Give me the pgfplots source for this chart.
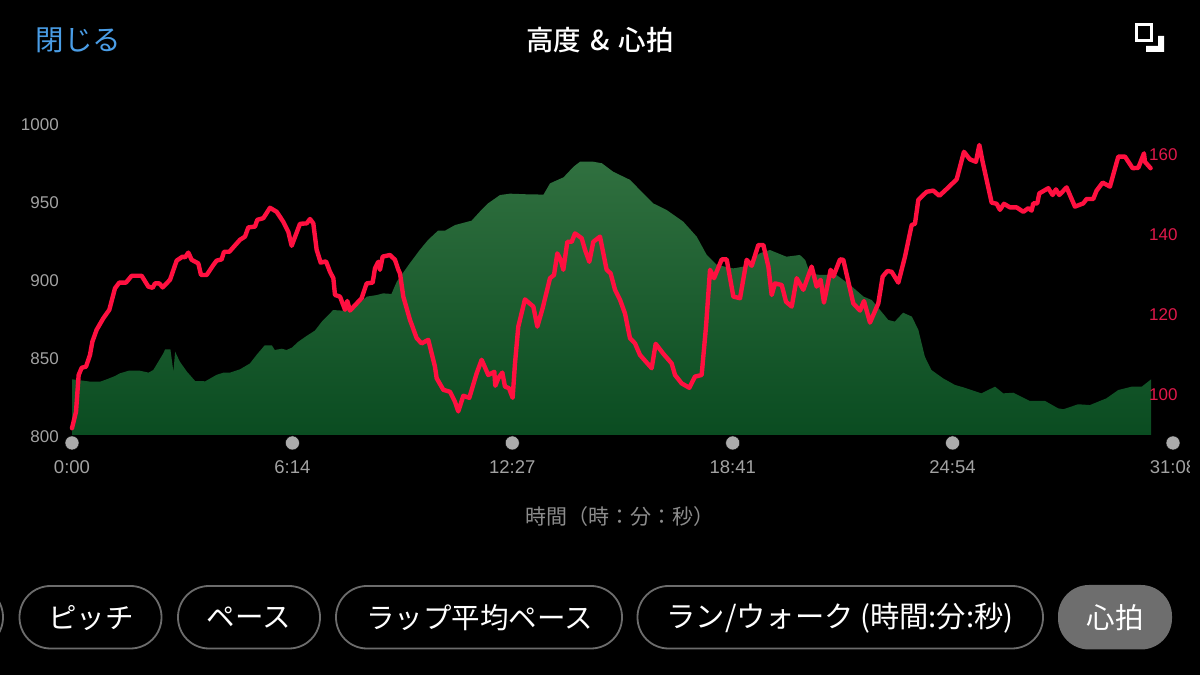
\documentclass[border=0pt]{standalone}
\usepackage{pgfplots}
\usepackage{fontspec}
\pgfplotsset{compat=1.18}
\setmainfont{Liberation Sans}
\newfontfamily\cjk{Noto Sans CJK JP}
\newfontfamily\cjkm{Noto Sans CJK JP Medium}
\definecolor{tickgray}{HTML}{A2A2A2}
\definecolor{labgray}{HTML}{8C8C8C}
\definecolor{hrred}{HTML}{FF1040}
\definecolor{hrtick}{HTML}{E0184A}
\definecolor{closeblue}{HTML}{4A9DE6}
\definecolor{pillline}{HTML}{6C6C6C}
\definecolor{pillfill}{HTML}{6E6E6E}
\definecolor{dotgray}{HTML}{ABABAB}
\definecolor{elevtop}{HTML}{30703F}
\definecolor{elevbot}{HTML}{0A4C21}
\pgfplotstableread{
t elev
0 835.7
19 834.8
31 834.2
48 834.2
59 835.7
73 837.8
81 839.5
96 841.2
115 841.2
130 840.0
138 841.7
155 852.4
158 854.9
167 854.9
172 840.6
175 853.4
183 847.0
195 840.6
209 834.6
217 834.6
226 834.4
245 838.5
257 840.0
268 840.0
285 842.1
302 845.9
313 851.3
327 857.5
339 857.5
344 854.5
356 855.3
364 854.5
373 856.0
384 859.8
398 863.5
412 866.9
424 872.7
435 876.9
443 880.1
460 879.7
477 881.2
491 885.5
500 888.7
517 889.7
528 890.8
542 890.4
551 898.3
573 910.0
590 918.6
604 925.0
621 931.0
633 931.0
650 934.6
678 937.4
692 943.2
706 948.5
726 953.8
743 954.7
771 954.3
800 954.1
811 961.3
834 965.2
851 972.0
862 975.2
884 975.2
899 974.2
918 968.8
947 963.5
969 954.9
986 948.5
1009 944.2
1037 936.8
1060 927.1
1077 915.4
1094 909.0
1122 906.8
1139 907.9
1150 911.1
1167 916.5
1184 918.6
1212 914.3
1235 915.4
1244 912.2
1252 903.6
1269 902.6
1297 902.6
1320 896.2
1343 888.7
1357 886.5
1371 880.1
1385 873.7
1396 872.7
1410 878.4
1425 875.9
1436 867.3
1447 850.2
1458 841.7
1478 836.3
1498 832.1
1512 830.6
1543 826.7
1566 831.0
1580 826.7
1597 827.1
1625 821.8
1651 821.8
1673 817.1
1682 816.5
1707 819.7
1727 819.2
1755 823.5
1775 828.8
1798 831.0
1815 831.0
1831 835.7
}\elevtable
\pgfplotstableread{
t hr
0 91.7
6.8 95.8
11.3 105.0
16.4 106.8
23.8 107.1
30.5 110.0
34.5 113.3
41.8 116.3
53.2 119.2
63.3 121.3
73 126.7
80.3 128.1
91.6 128.1
101.2 129.8
118.2 129.8
129.5 127.1
136.9 126.8
140.8 127.9
148.2 127.9
153.8 126.9
166.3 128.8
177.6 133.6
187.8 134.6
191.7 134.4
197.4 135.6
203 133.8
214.3 132.9
218.9 130
228.5 130
239.8 132.5
245.4 133.6
253.9 133.9
257.9 135.8
266.9 135.8
285 138.8
293.5 139.6
299.2 141.9
310.5 142.1
314.4 143.8
324.6 144.2
335.9 146.8
347.2 145.8
358.5 143.3
367 140.8
372.7 137.3
386.8 142.8
398.1 142.9
403.8 144
409.4 142.9
415.1 136.3
421.9 133.1
431 133.4
437.7 130.8
443.4 129.2
446.2 125
454.7 124.6
463.2 121.3
467.1 123.5
471.6 121.1
491.4 124.2
499.9 127.9
510.1 128.1
514.1 131.7
519.7 133.3
522.5 131.3
527.1 134.6
539.5 135
548 133.8
553.7 131.3
556.5 130.4
562.1 124.6
573.4 118.8
584.8 114.2
593.2 112.9
604.5 113.8
615.8 107.1
618.7 104.2
630 101.3
641.3 100.8
649.8 98.3
655.4 95.9
663.9 99.8
674.1 99.3
686.5 105.4
695 108.8
706.3 105
716.5 105.8
718.2 102.3
723.3 104.2
730.1 105.6
734.6 102.1
741.4 101.7
747.6 99.3
751.6 107.9
757.2 117.1
768.5 123.9
782.7 122.1
789.5 117.1
798.5 121.7
811 129.2
817.8 130
823.4 135.4
829.1 133.8
833.6 131.3
840.4 138.3
847.8 138.3
853.4 140.4
864.7 139.2
870.4 136.3
877.7 133.3
884.5 138.3
895.8 139.6
907.1 131.3
913.9 130.4
921.3 126.3
929.8 123.8
938.2 120.4
946.7 114.2
955.2 112.9
963.7 110
983.5 106.7
990.3 112.8
1003.3 110.3
1017.4 107.9
1023.1 105
1034.4 102.9
1047.4 101.8
1057 104.6
1068.3 105
1075.7 117.1
1082.5 131.3
1089.3 129.2
1102.3 133.9
1110.8 133.9
1122.1 124.6
1133.4 124.2
1144.7 133.8
1153.2 132.3
1164.5 137.5
1173 137.5
1181.5 132.1
1187.1 125
1192.8 127.9
1204.1 127.5
1211.5 123.3
1221.1 122.1
1229.6 129.2
1240.8 126.3
1254.9 132.1
1263.4 127.1
1270.2 128.8
1275.8 123.1
1287.1 131.3
1291.7 129.6
1303 133.9
1308.6 133.8
1325.6 122.9
1336.9 121.1
1343.7 123.5
1353.9 118.1
1368 122.9
1375.4 129.6
1383.3 131
1390.7 130.8
1402 128.1
1413.3 134.6
1424.6 142.5
1430.2 142.8
1435.9 148.8
1450 150.8
1461.3 151.1
1471.5 149.8
1481.1 151.1
1500.9 153.9
1513.3 160.8
1523.5 158.9
1533.7 158.3
1539.4 162.5
1545 158.3
1560.3 148.1
1568.8 147.8
1574.4 146.3
1581.2 147.8
1591.4 146.9
1602.7 146.9
1614 145.8
1622.5 146.7
1628.1 146.1
1630.9 147.9
1637.7 147.9
1641.1 150.4
1656.4 151.7
1663.7 150
1669.4 151.4
1675 150
1687.5 151.9
1701.6 147.1
1715.7 147.9
1721.4 149
1732.7 149
1738.4 151.1
1748.6 153.1
1761 152.1
1775.2 159.6
1786.5 159.6
1799.5 156.7
1809.1 156.8
1818.7 160.4
1820.4 158.3
1830 156.7
}\hrtable
\newcommand{\fs}[1]{\fontsize{#1}{#1}\selectfont}
\begin{document}
\begin{tikzpicture}[x=1pt,y=1pt]
\useasboundingbox (0,0) rectangle (1200,675);
\fill[black] (0,0) rectangle (1200,675);
\begin{axis}[
  at={(72pt,240pt)}, anchor=south west,
  scale only axis, width=1101pt, height=312pt,
  xmin=0, xmax=1868, ymin=800, ymax=1000,
  clip=false,
  axis x line*=bottom, axis y line*=left,
  axis line style={draw=none},
  major tick length=0pt,
  /pgf/number format/assume math mode=true,
  /pgf/number format/1000 sep={},
  xtick={0,374,747,1121,1494,1868},
  xticklabels={0:00,6:14,12:27,18:41,24:54,31:08},
  ytick={800,850,900,950,1000},
  ticklabel style={font=\fs{17}, text=tickgray},
  xticklabel style={font=\fs{18.5}, anchor=north, inner sep=0pt, yshift=-25pt},
  yticklabel style={anchor=east, inner sep=0pt, xshift=-13pt, yshift=-1.5pt},
  xlabel={\cjk 時間（時：分：秒）},
  xlabel style={font=\fs{21}, text=labgray, inner sep=0pt, at={(axis description cs:0.498,0)}, anchor=center, yshift=-82pt},
]
\addplot[draw=none, top color=elevtop, bottom color=elevbot, middle color=elevtop!50!elevbot] table[x=t,y=elev] {\elevtable} \closedcycle;
\addplot[only marks, mark=*, mark size=7pt, draw=none, mark options={draw=none, fill=dotgray}]
  coordinates {(0,794.9) (374,794.9) (747,794.9) (1121,794.9) (1494,794.9) (1868,794.9)};
\end{axis}
\begin{axis}[
  at={(72pt,240pt)}, anchor=south west,
  scale only axis, width=1101pt, height=312pt,
  xmin=0, xmax=1868, ymin=90, ymax=168,
  clip=false,
  hide x axis,
  axis y line*=right,
  axis line style={draw=none},
  major tick length=0pt,
  /pgf/number format/assume math mode=true,
  ytick={100,120,140,160},
  yticklabel style={font=\fs{17}, text=hrtick, anchor=west, inner sep=0pt, xshift=-24pt},
]
\addplot[hrred, line width=4.4pt, line join=round, line cap=round] table[x=t,y=hr] {\hrtable};
\end{axis}
% clipped end of last tick label
\fill[black] (1190,190) rectangle (1200,225);
% header
\node[text=closeblue, font=\cjk\fs{28.5}, anchor=center] at (78.5,635) {閉じる};
\node[text=white, font=\cjkm\fs{27.5}, anchor=center] at (600,635) {高度\hspace{9pt}\&\hspace{9pt}心拍};
\draw[white, line width=3pt] (1136.5,634) rectangle (1151.5,650.5);
\fill[white] (1158,639) -- (1164,639) -- (1164,623) -- (1146,623) -- (1146,629) -- (1158,629) -- cycle;
% selector pills
\begin{scope}[pillline, line width=1.8pt]
\draw[rounded corners=31pt] (-40,26.5) rectangle (3,89);
\draw[rounded corners=31pt] (19.5,26.5) rectangle (161.5,89);
\draw[rounded corners=31pt] (178,26.5) rectangle (320,89);
\draw[rounded corners=31pt] (336,26.5) rectangle (622,89);
\draw[rounded corners=31pt] (637.5,26.5) rectangle (1043,89);
\end{scope}
\fill[pillfill, rounded corners=31pt] (1058,25.5) rectangle (1172,90);
\begin{scope}[every node/.style={text=white, font=\cjk\fs{28.5}, anchor=center, inner sep=0pt}]
\node at (91,57) {ピッチ};
\node at (249,57) {ペース};
\node at (479.5,57) {ラップ平均ペース};
\node[font=\cjk\fs{29.3}] at (840,57) {ラン/ウォーク (時間:分:秒)};
\node at (1115,57) {心拍};
\end{scope}
\end{tikzpicture}
\end{document}
